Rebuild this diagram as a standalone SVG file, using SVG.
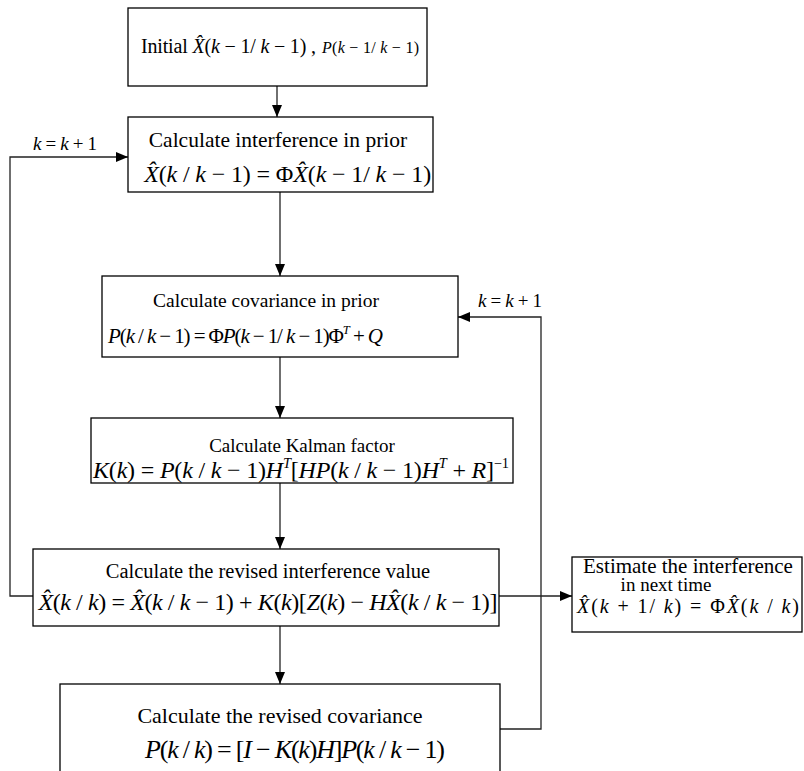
<svg xmlns="http://www.w3.org/2000/svg" width="804" height="771" viewBox="0 0 804 771">
<defs>
<marker id="ah" viewBox="0 0 12 10" refX="12" refY="5" markerWidth="12" markerHeight="10" markerUnits="userSpaceOnUse" orient="auto">
<path d="M0,0 L12,5 L0,10 Z" fill="#000"/>
</marker>
<style>
.box{fill:#fff;stroke:#000;stroke-width:1.3}
.ln{fill:none;stroke:#222;stroke-width:1.3}
text{font-family:"Liberation Serif","Times New Roman",serif;fill:#000}
.t{text-anchor:middle}
.i{font-style:italic}
.s{font-size:60%}
</style>
</defs>
<rect width="804" height="771" fill="#fff"/>
<g id="connectors">
<line class="ln" x1="277" y1="86" x2="277" y2="117" marker-end="url(#ah)"/>
<line class="ln" x1="280" y1="192" x2="280" y2="276" marker-end="url(#ah)"/>
<line class="ln" x1="280" y1="357" x2="280" y2="418" marker-end="url(#ah)"/>
<line class="ln" x1="280" y1="483" x2="280" y2="549" marker-end="url(#ah)"/>
<line class="ln" x1="280" y1="626" x2="280" y2="684" marker-end="url(#ah)"/>
<polyline class="ln" points="33,596 10,596 10,157 128,157" marker-end="url(#ah)"/>
<polyline class="ln" points="500,729 541,729 541,317 458,317" marker-end="url(#ah)"/>
<line class="ln" x1="499" y1="596" x2="572" y2="596" marker-end="url(#ah)"/>
<text x="33" y="150" font-size="19" textLength="64"><tspan class="i">k</tspan> = <tspan class="i">k</tspan> + 1</text>
<text x="478" y="307" font-size="19" textLength="64"><tspan class="i">k</tspan> = <tspan class="i">k</tspan> + 1</text>
</g>
<g id="n1">
<rect class="box" x="128" y="8" width="299" height="78"/>
<text x="141" y="53" font-size="20" textLength="175">Initial <tspan class="i">X̂</tspan>(<tspan class="i">k</tspan> − 1/ <tspan class="i">k</tspan> − 1) ,</text>
<text x="322" y="53" font-size="16" textLength="97"><tspan class="i">P</tspan>(<tspan class="i">k</tspan> − 1/ <tspan class="i">k</tspan> − 1)</text>
</g>
<g id="n2">
<rect class="box" x="128" y="117" width="305" height="75"/>
<text class="t" x="278" y="147" font-size="21.5">Calculate interference in prior</text>
<text x="144" y="182" font-size="24" textLength="287"><tspan class="i">X̂</tspan>(<tspan class="i">k</tspan> / <tspan class="i">k</tspan> − 1) = Φ<tspan class="i">X̂</tspan>(<tspan class="i">k</tspan> − 1/ <tspan class="i">k</tspan> − 1)</text>
</g>
<g id="n3">
<rect class="box" x="102" y="276" width="356" height="81"/>
<text class="t" x="266" y="307" font-size="19.5">Calculate covariance in prior</text>
<text x="108" y="343" font-size="21" textLength="275"><tspan class="i">P</tspan>(<tspan class="i">k</tspan> / <tspan class="i">k</tspan> − 1) = Φ<tspan class="i">P</tspan>(<tspan class="i">k</tspan> − 1/ <tspan class="i">k</tspan> − 1)Φ<tspan class="s" dy="-9"><tspan class="i">T</tspan></tspan><tspan dy="9"> + </tspan><tspan class="i">Q</tspan></text>
</g>
<g id="n4">
<rect class="box" x="91" y="418" width="422" height="65"/>
<text class="t" x="302" y="452" font-size="19">Calculate Kalman factor</text>
<text x="93" y="478" font-size="24" textLength="416"><tspan class="i">K</tspan>(<tspan class="i">k</tspan>) = <tspan class="i">P</tspan>(<tspan class="i">k</tspan> / <tspan class="i">k</tspan> − 1)<tspan class="i">H</tspan><tspan class="s" dy="-10"><tspan class="i">T</tspan></tspan><tspan dy="10">[</tspan><tspan class="i">HP</tspan>(<tspan class="i">k</tspan> / <tspan class="i">k</tspan> − 1)<tspan class="i">H</tspan><tspan class="s" dy="-10"><tspan class="i">T</tspan></tspan><tspan dy="10"> + </tspan><tspan class="i">R</tspan>]<tspan class="s" dy="-10">−1</tspan></text>
</g>
<g id="n5">
<rect class="box" x="33" y="549" width="466" height="77"/>
<text class="t" x="268" y="578" font-size="20.5">Calculate the revised interference value</text>
<text x="38" y="610" font-size="24" textLength="459"><tspan class="i">X̂</tspan>(<tspan class="i">k</tspan> / <tspan class="i">k</tspan>) = <tspan class="i">X̂</tspan>(<tspan class="i">k</tspan> / <tspan class="i">k</tspan> − 1) + <tspan class="i">K</tspan>(<tspan class="i">k</tspan>)[<tspan class="i">Z</tspan>(<tspan class="i">k</tspan>) − <tspan class="i">HX̂</tspan>(<tspan class="i">k</tspan> / <tspan class="i">k</tspan> − 1)]</text>
</g>
<g id="n7">
<rect class="box" x="572" y="557" width="230" height="75"/>
<text class="t" x="688" y="573" font-size="21">Estimate the interference</text>
<text class="t" x="666" y="591" font-size="19">in next time</text>
<text x="577" y="613" font-size="20" textLength="222"><tspan class="i">X̂</tspan>(<tspan class="i">k</tspan> + 1/ <tspan class="i">k</tspan>) = Φ<tspan class="i">X̂</tspan>(<tspan class="i">k</tspan> / <tspan class="i">k</tspan>)</text>
</g>
<g id="n6">
<rect class="box" x="60" y="684" width="440" height="100"/>
<text class="t" x="280" y="723" font-size="22">Calculate the revised covariance</text>
<text x="145" y="758" font-size="26" textLength="300"><tspan class="i">P</tspan>(<tspan class="i">k</tspan> / <tspan class="i">k</tspan>) = [<tspan class="i">I</tspan> − <tspan class="i">K</tspan>(<tspan class="i">k</tspan>)<tspan class="i">H</tspan>]<tspan class="i">P</tspan>(<tspan class="i">k</tspan> / <tspan class="i">k</tspan> − 1)</text>
</g>
</svg>
